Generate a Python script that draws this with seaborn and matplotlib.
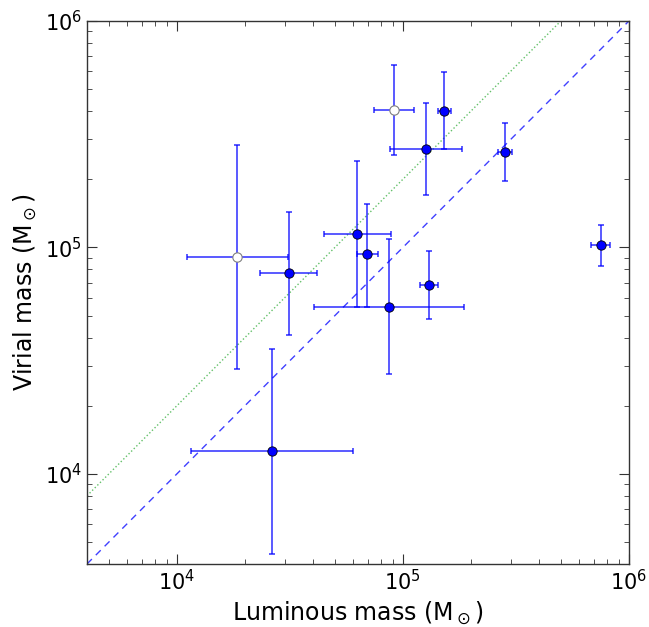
import numpy as np
import pandas as pd
import matplotlib
matplotlib.use("Agg")
import matplotlib.pyplot as plt
import seaborn as sns

# Data
lum = [9.1e4, 1.52e5, 1.26e5, 2.82e5, 7.5e5, 1.85e4, 3.13e4, 6.24e4, 6.96e4, 8.67e4, 1.30e5, 2.64e4]
lum_lo = [7.45e4, 1.43e5, 8.75e4, 2.64e5, 6.8e5, 1.11e4, 2.33e4, 4.48e4, 6.24e4, 4.05e4, 1.19e5, 1.15e4]
lum_hi = [1.12e5, 1.64e5, 1.83e5, 3.05e5, 8.25e5, 3.1e4, 4.17e4, 8.86e4, 7.75e4, 1.86e5, 1.43e5, 6.01e4]
vir = [4.06e5, 4.0e5, 2.72e5, 2.64e5, 1.02e5, 9.07e4, 7.73e4, 1.15e5, 9.31e4, 5.45e4, 6.8e4, 1.256e4]
vir_lo = [2.57e5, 2.72e5, 1.71e5, 1.96e5, 8.3e4, 2.9e4, 4.1e4, 5.45e4, 5.48e4, 2.75e4, 4.84e4, 4.45e3]
vir_hi = [6.37e5, 5.94e5, 4.33e5, 3.54e5, 1.26e5, 2.83e5, 1.44e5, 2.41e5, 1.56e5, 1.09e5, 9.6e4, 3.56e4]
kind = ["open", "filled", "filled", "filled", "filled", "open",
        "filled", "filled", "filled", "filled", "filled", "filled"]

df = pd.DataFrame(dict(lum=lum, lum_lo=lum_lo, lum_hi=lum_hi,
                       vir=vir, vir_lo=vir_lo, vir_hi=vir_hi, kind=kind))

sns.set_style("ticks")
plt.rcParams["font.family"] = ["DejaVu Sans"]
plt.rcParams["text.color"] = "black"
plt.rcParams["axes.labelcolor"] = "black"
plt.rcParams["xtick.color"] = "#333333"
plt.rcParams["ytick.color"] = "#333333"
plt.rcParams["xtick.labelcolor"] = "black"
plt.rcParams["ytick.labelcolor"] = "black"

fig = plt.figure(figsize=(6.49, 6.27), dpi=100)
ax = fig.add_axes([0.134, 0.1005, 0.835, 0.866])

lim = (4e3, 1e6)
ref = np.array(lim)
ax.plot(ref, ref, ls="--", color="blue", lw=1.0, alpha=0.75, dashes=(5, 4))
ax.plot(ref, 2 * ref, ls=":", color="#3cb043", lw=1.0, alpha=0.8)

xerr = np.vstack([df.lum - df.lum_lo, df.lum_hi - df.lum])
yerr = np.vstack([df.vir - df.vir_lo, df.vir_hi - df.vir])
ax.errorbar(df.lum, df.vir, xerr=xerr, yerr=yerr, fmt="none",
            ecolor="blue", alpha=0.7, elinewidth=1.3, capsize=2.5, capthick=1.3)

sns.scatterplot(data=df[df.kind == "filled"], x="lum", y="vir", ax=ax,
                color="blue", edgecolor="black", linewidth=0.6, s=45, zorder=5)
sns.scatterplot(data=df[df.kind == "open"], x="lum", y="vir", ax=ax,
                color="white", edgecolor="gray", linewidth=0.8, s=45, zorder=5)

ax.set_xscale("log")
ax.set_yscale("log")
ax.set_xlim(*lim)
ax.set_ylim(*lim)

ax.set_xlabel(r"Luminous mass (M$_\odot$)", fontsize=17)
ax.set_ylabel(r"Virial mass (M$_\odot$)", fontsize=17)
ax.tick_params(which="both", direction="in", top=True, right=True, labelsize=15)
ax.tick_params(which="major", length=7, width=0.8)
ax.tick_params(which="minor", length=3.5, width=0.6)
for s in ax.spines.values():
    s.set_linewidth(1.0)
    s.set_color("#333333")

fig.savefig("out.png", dpi=100)
